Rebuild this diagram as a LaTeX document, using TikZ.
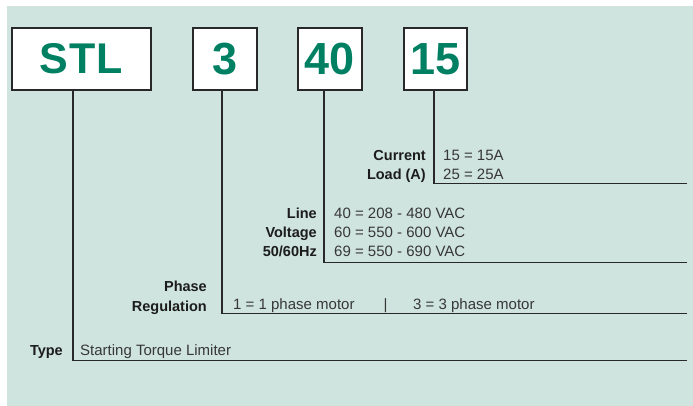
\documentclass[tikz,border=0pt]{standalone}
\usepackage{fontspec}
\setmainfont{Liberation Sans}
\definecolor{bg}{RGB}{207,228,222}
\definecolor{grn}{RGB}{0,128,98}
\definecolor{ln}{RGB}{40,40,40}
\definecolor{txt}{RGB}{55,55,55}
\definecolor{lbtxt}{RGB}{28,28,28}
\begin{document}
\begin{tikzpicture}[x=1pt,y=-1pt,
  codebox/.style={draw=ln, line width=1.8pt, fill=white, inner sep=0pt,
    minimum height=62pt, text=grn, font=\fontsize{45}{45}\selectfont\bfseries},
  lead/.style={draw=ln, line width=1.4pt},
  lbl/.style={anchor=base east, inner sep=0pt, text=lbtxt,
    font=\fontsize{14.5}{17}\selectfont\bfseries},
  val/.style={anchor=base west, inner sep=0pt, text=txt,
    font=\fontsize{15}{17}\selectfont}]
\useasboundingbox (0,0) rectangle (693,406);
\fill[bg] (7,6) rectangle (693,406);

% code boxes
\node[codebox, minimum width=139pt] (stl) at (81.5,59) {\fontsize{43}{43}\selectfont S\kern1pt T\kern1pt L};
\node[codebox, minimum width=64pt] (ph) at (225,59) {3};
\node[codebox, minimum width=64pt] (vo) at (330,59) {40};
\node[codebox, minimum width=63pt] (cu) at (435.5,59) {15};

% leader corners and ends
\coordinate (cC) at (434,183.5);
\coordinate (cE) at (687,183.5);
\coordinate (vC) at (324,262.5);
\coordinate (vE) at (687,262.5);
\coordinate (pC) at (222,313.5);
\coordinate (pE) at (687,313.5);
\coordinate (tC) at (73,360.5);
\coordinate (tE) at (687,360.5);

\draw[lead] (cu.south -| cC) -- (cC) -- (cE);
\draw[lead] (vo.south -| vC) -- (vC) -- (vE);
\draw[lead] (ph.south -| pC) -- (pC) -- (pE);
\draw[lead] (stl.south -| tC) -- (tC) -- (tE);

% current load
\node[lbl] (cl1) at (426,160.5) {Current};
\node[lbl] (cl2) at (426,179.5) {Load (A)};
\node[val] (cv1) at (443,160.5) {15 = 15A};
\node[val] (cv2) at (443,179.5) {25 = 25A};

% line voltage
\node[lbl] (vl1) at (317,218.5) {Line};
\node[lbl] (vl2) at (317,237) {Voltage};
\node[lbl] (vl3) at (317,256) {50/60Hz};
\node[val] (vv1) at (334,218.5) {40 = 208 - 480 VAC};
\node[val] (vv2) at (334,237) {60 = 550 - 600 VAC};
\node[val] (vv3) at (334,256) {69 = 550 - 690 VAC};

% phase regulation
\node[lbl] (pl1) at (207,291.5) {Phase};
\node[lbl] (pl2) at (207,311) {Regulation};
\node[val] (pv1) at (233,309.5) {1 = 1 phase motor};
\node[val] (pv2) at (383.5,309.5) {|};
\node[val] (pv3) at (413,309.5) {3 = 3 phase motor};

% type
\node[lbl] (tl) at (63,355.5) {Type};
\node[val] (tv) at (80,355.5) {Starting Torque Limiter};
\end{tikzpicture}
\end{document}
